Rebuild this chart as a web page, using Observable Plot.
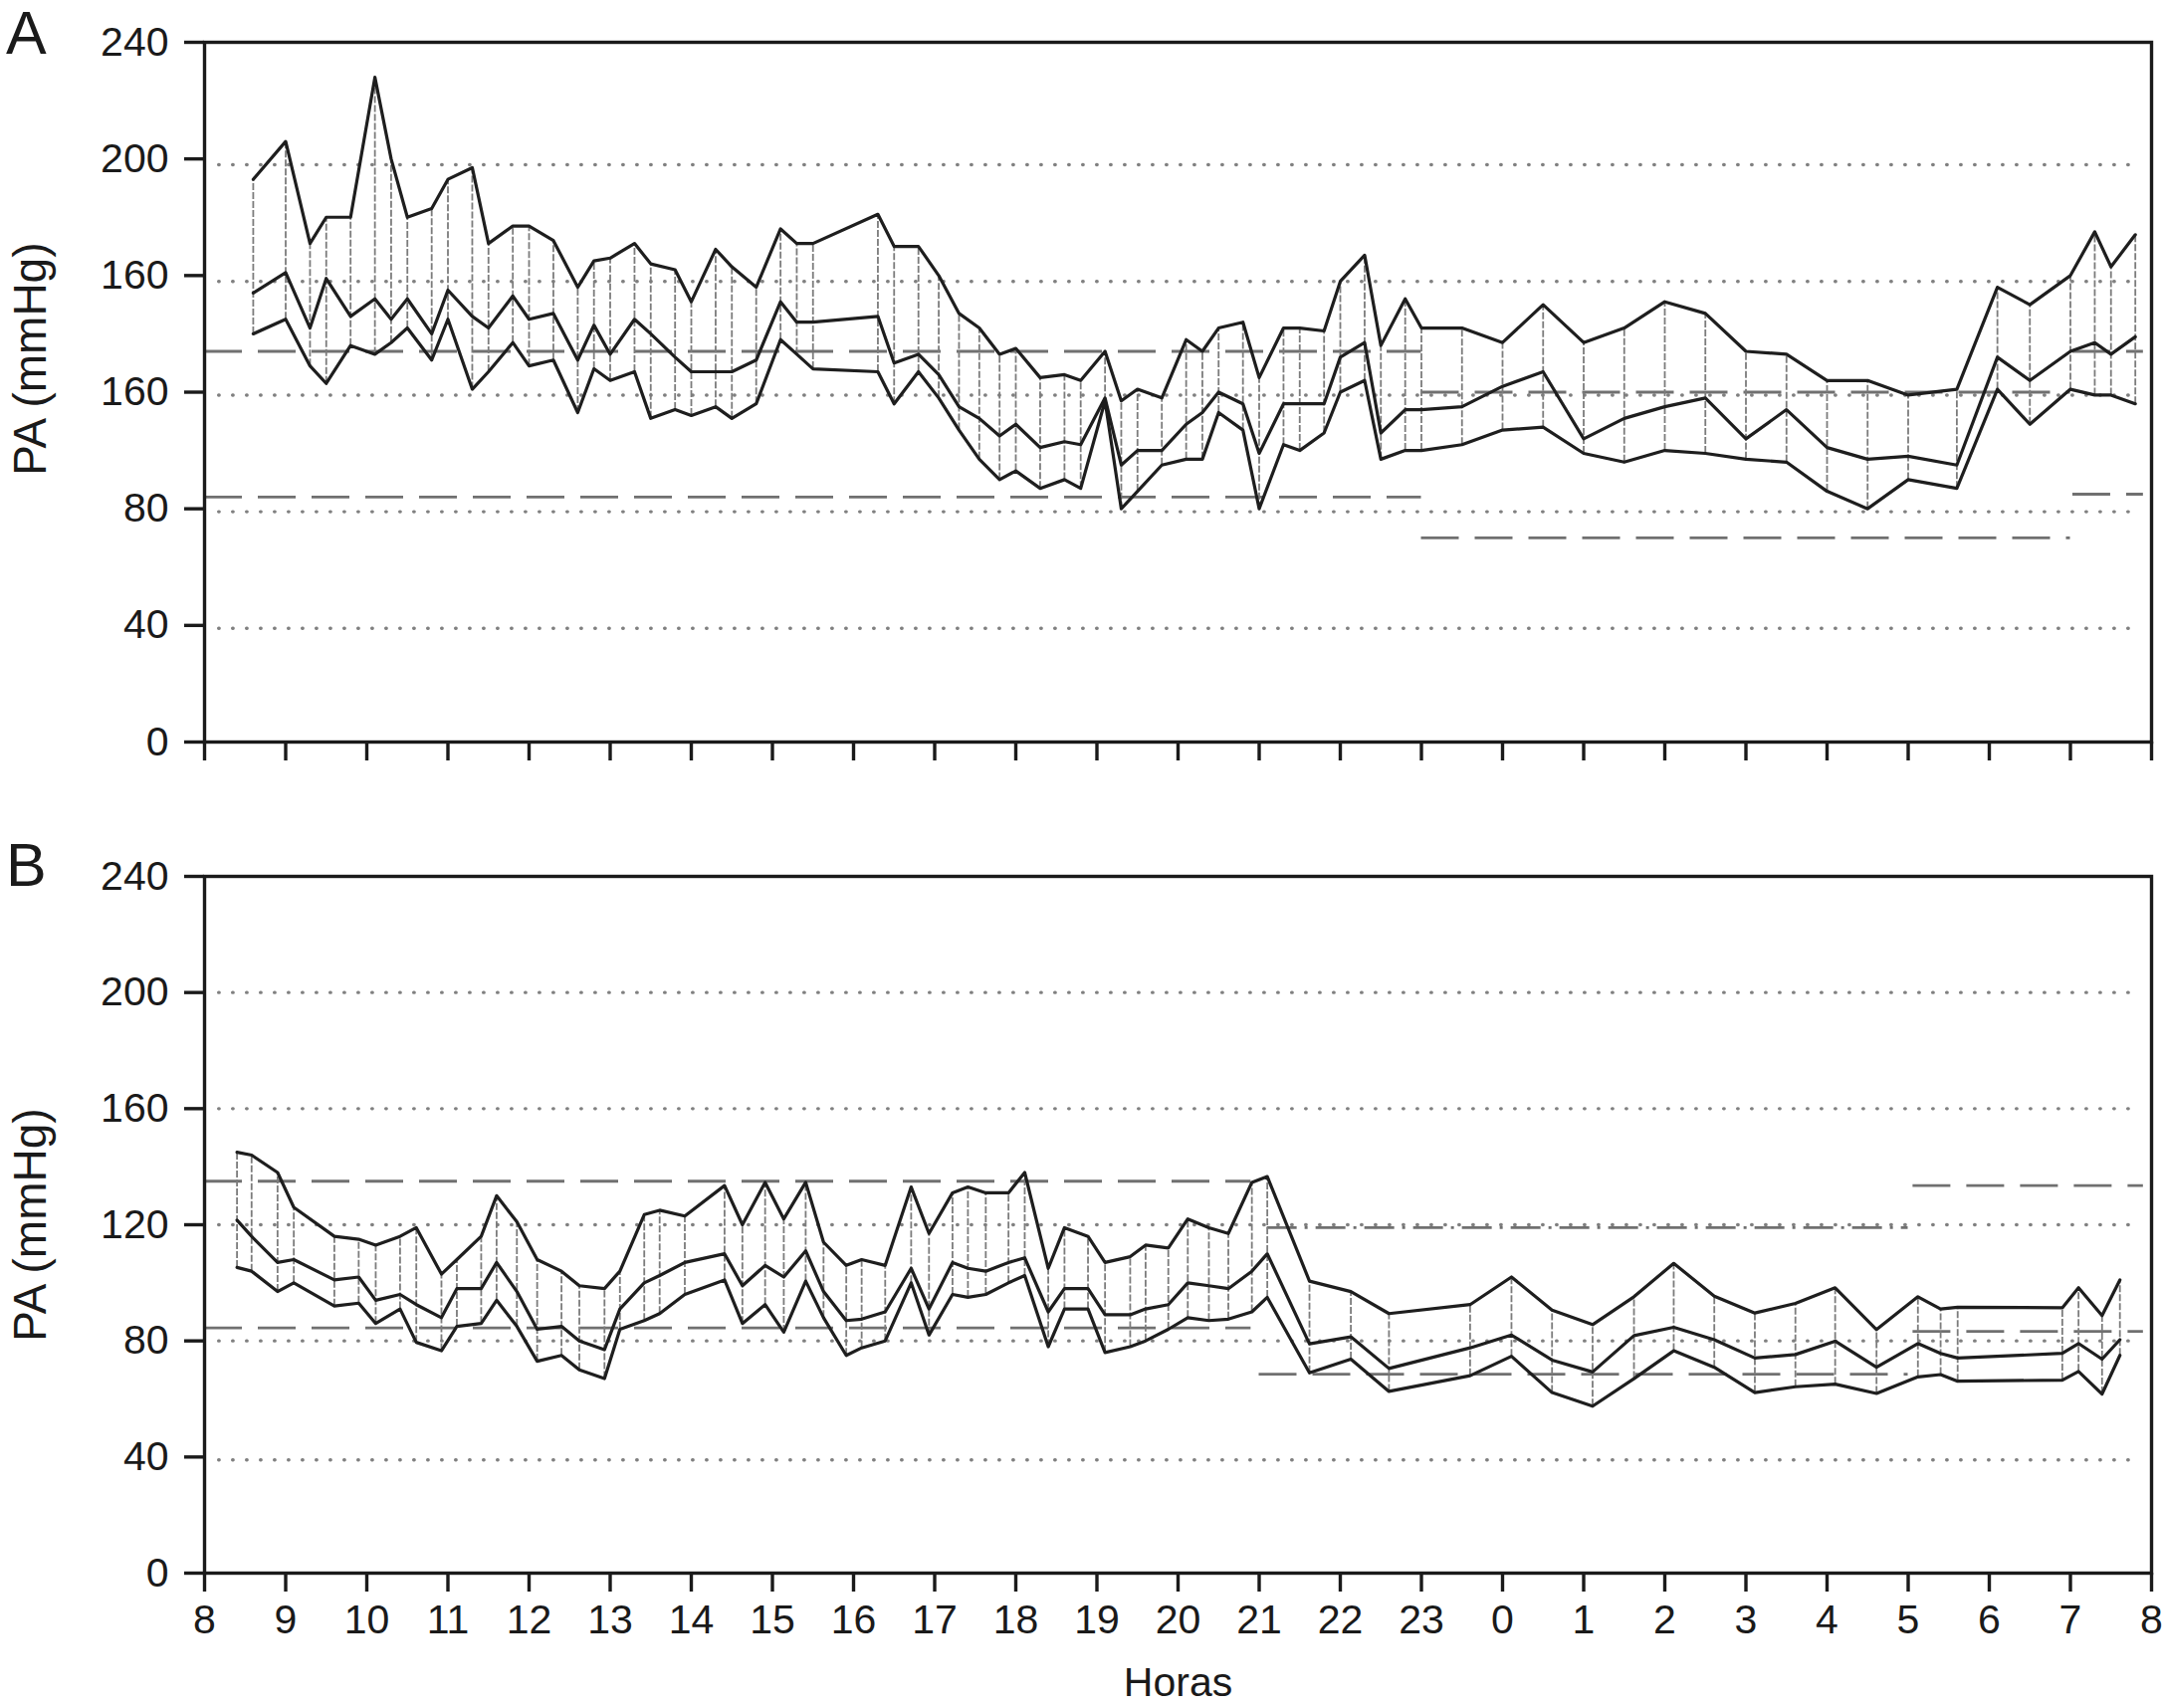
<!DOCTYPE html>
<html><head><meta charset="utf-8">
<script src="https://cdn.jsdelivr.net/npm/d3@7"></script>
<script src="https://cdn.jsdelivr.net/npm/@observablehq/plot@0.6"></script>
<style>
body{margin:0;background:#fff;}
#wrap{position:relative;width:2172px;height:1716px;font-family:"Liberation Sans",Arial,sans-serif;color:#1a1a1a;}
.panel{position:absolute;left:0;}
.letter{position:absolute;left:6px;font-size:61px;line-height:1;}
</style></head><body><div id="wrap"></div>
<script>
// ---- axis ticks / labels ----
const xTicks = [8,9,10,11,12,13,14,15,16,17,18,19,20,21,22,23,24,25,26,27,28,29,30,31,32];
const xTickLabels = ["8","9","10","11","12","13","14","15","16","17","18","19","20","21","22","23","0","1","2","3","4","5","6","7","8"];
const yTicks = [0,40,80,120,160,200,240];
const yTickLabelsA = ["0","40","80","160","160","200","240"];
const yTickLabelsB = ["0","40","80","120","160","200","240"];
const yTitle = "PA (mmHg)";
const xTitle = "Horas";

// ---- Panel A (clock hours, >24 = next day) ----
const tA = [8.6,9.0,9.3,9.5,9.8,10.1,10.3,10.5,10.8,11.0,11.3,11.5,11.8,12.0,12.3,12.6,12.8,13.0,13.3,13.5,13.8,14.0,14.3,14.5,14.8,15.1,15.3,15.5,16.3,16.5,16.8,17.05,17.3,17.55,17.8,18.0,18.3,18.6,18.8,19.1,19.3,19.5,19.8,20.1,20.3,20.5,20.8,21.0,21.3,21.5,21.8,22.0,22.3,22.5,22.8,23.0,23.5,24.0,24.5,25.0,25.5,26.0,26.5,27.0,27.5,28.0,28.5,29.0,29.6,30.1,30.5,31.0,31.3,31.5,31.8];
const sysA = [193,206,171,180,180,228,200,180,183,193,197,171,177,177,172,156,165,166,171,164,162,151,169,163,156,176,171,171,181,170,170,160,147,142,133,135,125,126,124,134,117,121,118,138,134,142,144,125,142,142,141,158,167,136,152,142,142,137,150,137,142,151,147,134,133,124,124,119,121,156,150,160,175,163,174];
const meanA = [154,161,142,159,146,152,145,152,140,155,146,142,153,145,147,131,143,133,145,140,132,127,127,127,131,151,144,144,146,130,133,126,115,111,105,109,101,103,102,118,95,100,100,109,113,120,116,99,116,116,116,132,137,106,114,114,115,122,127,104,111,115,118,104,114,101,97,98,95,132,124,134,137,133,139];
const diaA = [140,145,129,123,136,133,137,142,131,145,121,127,137,129,131,113,128,124,127,111,114,112,115,111,116,138,133,128,127,116,127,118,107,97,90,93,87,90,87,117,80,86,95,97,97,113,107,80,102,100,106,120,124,97,100,100,102,107,108,99,96,100,99,97,96,86,80,90,87,121,109,121,119,119,116];
const gridA = [198,158,119,79,39];
const refA_y  = [134,84,120,70,134,85];
const refA_x1 = [8,8,23,23,31.03,31.03];
const refA_x2 = [23,23,31,31,31.9,31.9];
const refA_kind = ["dash","dash","dash","dash","dash","dash"];

// ---- Panel B ----
const tB = [8.4,8.58,8.9,9.1,9.6,9.9,10.11,10.41,10.61,10.92,11.11,11.41,11.6,11.85,12.1,12.4,12.62,12.93,13.12,13.42,13.61,13.92,14.41,14.63,14.91,15.14,15.41,15.63,15.91,16.1,16.39,16.71,16.93,17.22,17.41,17.63,17.91,18.11,18.4,18.6,18.89,19.1,19.41,19.6,19.88,20.12,20.38,20.62,20.91,21.1,21.62,22.13,22.6,23.6,24.11,24.61,25.11,25.62,26.11,26.61,27.11,27.61,28.1,28.61,29.12,29.4,29.61,30.9,31.1,31.39,31.61];
const sysB = [145,144,138,126,116,115,113,116,119,103,108,116,130,121,108,104,99,98,104,123.5,125,123,133.5,120,134.6,122,134.6,114,106,108,106,133,117,131,133,131,131,138,105,119,116,107,109,113,112,122,119,117,134.6,136.6,100.6,97,89.4,92.5,102,90.6,85.6,95.2,106.7,95.4,89.6,92.9,98.3,83.9,95.2,91,91.6,91.4,98.3,88.7,101];
const meanB = [121.6,116,107,108,101,102,94,96,92.5,88,98,98,107,97,84,85,80,77,91,100,102.5,107,110,99,106,102,111,97,87,87.5,90,105,91,107,105,104,107,108.6,90,98,98,89,89,91,92.5,100,99,98,104,110,79,81.4,70.5,77.6,82,73.4,69.3,81.8,84.7,80.4,74.1,75.3,79.9,70.9,79.1,75.7,74.1,75.7,79.1,73.7,80.4];
const diaB = [105.3,104,97,100,92,93,86,91,79.5,76.6,85,86,94,85,73,75,70,67,84,87,89.4,96,101,86,92.5,83,100.6,88,75,77.6,80,100,82,96,95,96,100,102.5,78,91,91,76,78,80,84,88,87,87.5,90,95,69,73.7,62.6,68,74.7,62.2,57.5,67,76.6,70.9,62.2,64.2,65.1,61.9,67.6,68.4,66.1,66.5,69.5,61.7,75];
const gridB = [200,160,120,80,39];
const refB_y  = [135,84.5,119,68.5,133.5,83.3];
const refB_x1 = [8,8,21.1,21,29.06,29.06];
const refB_x2 = [20.9,20.9,29,29,31.9,31.9];
const refB_kind = ["dash","dash","dashdot","dash","dash","dash"];

function rowsOf(t, s, m, d) { return t.map((v, i) => ({t: v, sys: s[i], mean: m[i], dia: d[i]})); }
function refsOf(ys, x1s, x2s, kinds) { return ys.map((y, i) => ({y, x1: x1s[i], x2: x2s[i], kind: kinds[i]})); }

function panel({rows, grid, refs, yLabels, showX, height, marginTop, marginBottom, titleY}) {
  const marks = [
    Plot.ruleY(grid, {y: d => d, x1: 8.18, x2: 31.82, stroke: "#808080", strokeWidth: 3.4, strokeLinecap: "round", strokeDasharray: "0.5,13.5"}),
    Plot.ruleY(refs.filter(r => r.kind === "dash"), {y: "y", x1: "x1", x2: "x2", stroke: "#707070", strokeWidth: 2.8, strokeDasharray: "38,16"}),
    Plot.ruleY(refs.filter(r => r.kind === "dashdot"), {y: "y", x1: "x1", x2: "x2", stroke: "#707070", strokeWidth: 2.8, strokeDasharray: "30,8,3,8"}),
    Plot.ruleX(rows, {x: "t", y1: "dia", y2: "sys", stroke: "#7c7c7c", strokeWidth: 1.8, strokeDasharray: "7,2"}),
    Plot.line(rows, {x: "t", y: "sys", stroke: "#1e1e1e", strokeWidth: 3.2}),
    Plot.line(rows, {x: "t", y: "mean", stroke: "#1e1e1e", strokeWidth: 3.2}),
    Plot.line(rows, {x: "t", y: "dia", stroke: "#1e1e1e", strokeWidth: 3.2}),
    Plot.frame({stroke: "#1a1a1a", strokeWidth: 3.4}),
    Plot.axisY(yTicks, {tickSize: 20, tickPadding: 16, strokeWidth: 3.4, fontSize: 41, label: null,
      tickFormat: d => yLabels[yTicks.indexOf(d)]}),
    Plot.axisX(xTicks, {tickSize: 19, tickPadding: 12, strokeWidth: 3.4, fontSize: 41, label: null,
      tickFormat: d => showX ? xTickLabels[xTicks.indexOf(d)] : ""}),
    Plot.text([yTitle], {frameAnchor: "left", y: () => titleY, dx: -174, rotate: -90, fontSize: 46,
      textAnchor: "middle", lineAnchor: "middle", fill: "#1a1a1a"})
  ];
  if (showX) marks.push(Plot.text([xTitle], {frameAnchor: "bottom", dy: 123, lineAnchor: "bottom", fontSize: 41, fill: "#1a1a1a"}));
  return Plot.plot({
    width: 2172, height, marginLeft: 205, marginRight: 11, marginTop, marginBottom,
    x: {domain: [8, 32]}, y: {domain: [0, 240]},
    style: {fontFamily: "'Liberation Sans', Arial, sans-serif", color: "#1a1a1a", background: "#fff", overflow: "visible"},
    marks
  });
}

const wrap = document.getElementById("wrap");
const a = panel({rows: rowsOf(tA, sysA, meanA, diaA), grid: gridA, refs: refsOf(refA_y, refA_x1, refA_x2, refA_kind),
  yLabels: yTickLabelsA, showX: false, height: 800, marginTop: 42, marginBottom: 55, titleY: 131.4});
a.classList.add("panel"); a.style.top = "0px";
const b = panel({rows: rowsOf(tB, sysB, meanB, diaB), grid: gridB, refs: refsOf(refB_y, refB_x1, refB_x2, refB_kind),
  yLabels: yTickLabelsB, showX: true, height: 916, marginTop: 80, marginBottom: 136, titleY: 120});
b.classList.add("panel"); b.style.top = "800px";
wrap.append(a, b);
const la = document.createElement("div"); la.className = "letter"; la.textContent = "A"; la.style.top = "3px";
const lb = document.createElement("div"); lb.className = "letter"; lb.textContent = "B"; lb.style.top = "839px";
wrap.append(la, lb);
</script></body></html>
